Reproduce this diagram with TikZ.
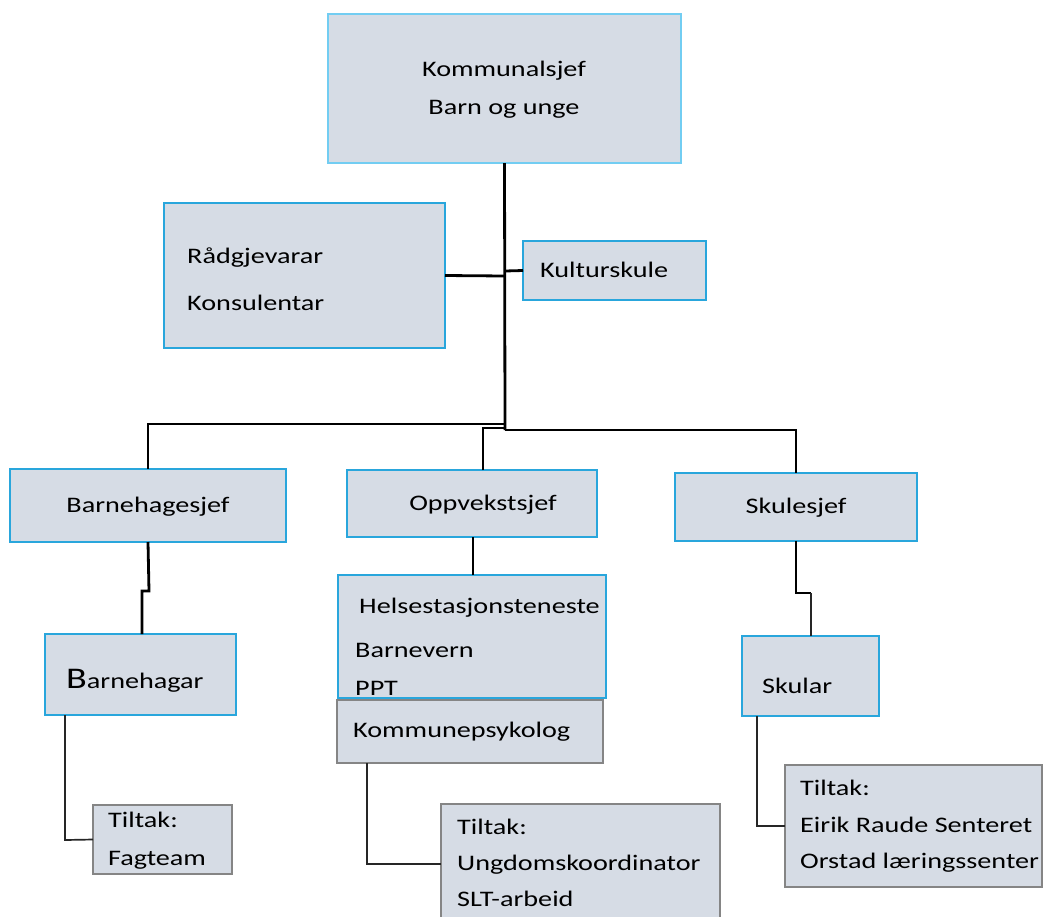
\documentclass[tikz,border=0pt]{standalone}
\usepackage{fontspec}
\setmainfont{Carlito}[FakeStretch=1.27]
\definecolor{boxfill}{HTML}{D6DCE5}
\definecolor{bluedge}{HTML}{29A6DC}
\definecolor{lightedge}{HTML}{72CDF2}
\definecolor{grayedge}{HTML}{858585}
\tikzset{
  box/.style={draw=bluedge, fill=boxfill, line width=2.1pt, inner sep=0pt, outer sep=0pt, anchor=north west},
  topbox/.style={box, draw=lightedge},
  graybox/.style={box, draw=grayedge, line width=1.5pt},
  txt/.style={inner sep=0pt, anchor=base west, font=\fontsize{22.2}{26}\selectfont},
  ctxt/.style={txt, anchor=base},
  thick line/.style={line width=2.8pt, black},
  thin line/.style={line width=1.7pt, black!85},
}
\begin{document}
\begin{tikzpicture}[x=1pt,y=-1pt]
\useasboundingbox (0,0) rectangle (1043,916);
% boxes
\node[topbox, minimum width=353, minimum height=149] (top) at (328,14) {};
\node[box, minimum width=281, minimum height=145] (rad) at (164,203) {};
\node[box, minimum width=183, minimum height=59] (kul) at (523,241) {};
\node[box, minimum width=276, minimum height=73] (bhs) at (10,469) {};
\node[box, minimum width=250, minimum height=67] (opp) at (347,470) {};
\node[box, minimum width=242, minimum height=68] (skj) at (675,473) {};
\node[box, minimum width=191, minimum height=81] (bhg) at (45,634) {};
\node[box, minimum width=268, minimum height=123] (hel) at (338,575) {};
\node[graybox, minimum width=266, minimum height=63] (kp) at (337,700) {};
\node[box, minimum width=137, minimum height=80] (sku) at (742,636) {};
\node[graybox, minimum width=139, minimum height=69] (tf) at (93,805) {};
\node[graybox, minimum width=279, minimum height=114] (tm) at (441,804) {};
\node[graybox, minimum width=257, minimum height=122] (tr) at (785,765) {};
% texts
\node[ctxt] (t1) at (504,76) {Kommunalsjef};
\node[ctxt] (t2) at (504,114) {Barn og unge};
\node[txt] (t3) at (187,263) {Rådgjevarar};
\node[txt] (t4) at (187,310) {Konsulentar};
\node[txt] (t5) at (540,277) {Kulturskule};
\node[ctxt] (t6) at (148,512) {Barnehagesjef};
\node[ctxt] (t7) at (483,510) {Oppvekstsjef};
\node[ctxt] (t8) at (796,513) {Skulesjef};
\node[txt] (t9) at (66,688) {{\fontsize{30}{30}\selectfont B}arnehagar};
\node[txt] (t10) at (359,613) {Helsestasjonsteneste};
\node[txt] (t11) at (355,657) {Barnevern};
\node[txt] (t12) at (355,695) {PPT};
\node[txt] (t13) at (353,737) {Kommunepsykolog};
\node[txt] (t14) at (762,693) {Skular};
\node[txt] (t15) at (108,827) {Tiltak:};
\node[txt] (t16) at (108,865) {Fagteam};
\node[txt] (t17) at (457,834) {Tiltak:};
\node[txt] (t18) at (457,870) {Ungdomskoordinator};
\node[txt] (t19) at (457,906) {SLT-arbeid};
\node[txt] (t20) at (800,795) {Tiltak:};
\node[txt] (t21) at (800,832) {Eirik Raude Senteret};
\node[txt] (t22) at (800,868) {Orstad læringssenter};
% junction coordinates
\coordinate (j1) at (505,424);
\coordinate (j2) at (505,430);
\coordinate (jr) at (505,276);
\coordinate (jk) at (505,271);
\coordinate (o1) at (483,428);
\coordinate (o2) at (473,540);
\coordinate (a1) at (149,591);
\coordinate (a2) at (142,591);
\coordinate (s1) at (796,593);
\coordinate (s2) at (811,593);
\coordinate (b1) at (65,840);
\coordinate (m1) at (367,864);
\coordinate (r1) at (757,826);
% connectors
\draw[thick line] (top.south) -- (j2);
\draw[thick line] (rad.east) -- (jr);
\draw[thick line] (jk) -- (kul.west);
\draw[thick line] (j1) -| (bhs.north);
\draw[thick line] (j2) -| (skj.north);
\draw[thick line] (o1 |- opp.north) -- (o1) -- (o1 -| j1);
\draw[thick line] (o2 |- opp.south) -- (o2 |- hel.north);
\draw[thick line] (bhs.south) -- (a1) -- (a2) -- (a2 |- bhg.north);
\draw[thick line] (skj.south) -- (s1) -- (s2);
\draw[thin line] (s2) -- (s2 |- sku.north);
\draw[thin line] (b1 |- bhg.south) -- (b1) -- (tf.west);
\draw[thin line] (m1 |- kp.south) -- (m1) -- (m1 -| tm.west);
\draw[thin line] (r1 |- sku.south) -- (r1) -- (tr.west);
\end{tikzpicture}
\end{document}
